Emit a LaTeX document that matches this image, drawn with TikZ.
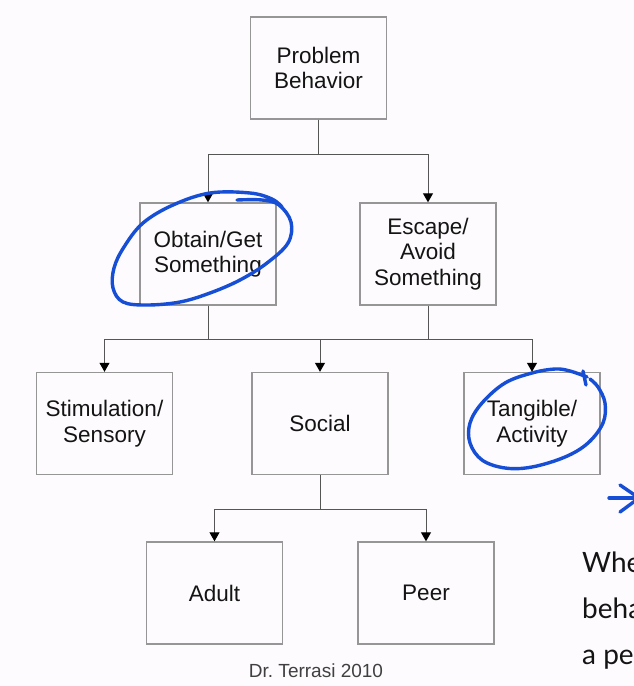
\documentclass[tikz,border=0pt]{standalone}
\usepackage{fontspec}
\setmainfont{Liberation Sans}
\newfontfamily\notefont{Lato}
\usetikzlibrary{arrows.meta}

\definecolor{boxgray}{RGB}{150,150,150}
\definecolor{linegray}{RGB}{85,85,85}
\definecolor{inkblue}{RGB}{22,78,214}
\definecolor{paper}{RGB}{253,251,253}

\tikzset{
  box/.style={draw=boxgray, line width=1.4pt, minimum width=136pt, minimum height=102pt,
    inner sep=0pt, align=center, text=black!92, font=\fontsize{22.5}{25.5}\selectfont},
  trunk/.style={draw=linegray, line width=1pt},
  link/.style={trunk, -{Triangle[width=10pt,length=9pt,color=black]}},
  ink/.style={inkblue, line width=3.4pt, line cap=round, line join=round},
  note/.style={font=\notefont\fontsize{28}{46}\selectfont, text=black!92, inner sep=0pt},
}

\begin{document}
\begin{tikzpicture}[x=1pt,y=-1pt]

\useasboundingbox (0,0) rectangle (634,686);
\clip (0,0) rectangle (634,686);
\fill[paper] (0,0) rectangle (634,686);

% boxes
\node[box] (prob)   at (318.5,68)  {Problem\\Behavior};
\node[box] (obtain) at (208,254)   {Obtain/Get\\Something};
\node[box] (escape) at (428,254)   {Escape/\\Avoid\\Something};
\node[box] (stim)   at (104.5,423.5) {Stimulation/\\Sensory};
\node[box] (social) at (320,423.5) {Social};
\node[box] (tang)   at (532,423.5) {Tangible/\\Activity};
\node[box] (adult)  at (214.5,593) {Adult};
\node[box] (peer)   at (426,593)   {Peer};

% connectors
\draw[link] (prob.south) -- ++(0,35) -| (obtain.north);
\draw[link] (prob.south) -- ++(0,35) -| (escape.north);

\draw[link] (obtain.south) -- ++(0,34) -| (stim.north);
\draw[link] (obtain.south) -- ++(0,34) -| (social.north);
\draw[link] (obtain.south) -- ++(0,34) -| (tang.north);
\draw[trunk] (escape.south) -- ++(0,34);

\draw[link] (social.south) -- ++(0,34) -| (adult.north);
\draw[link] (social.south) -- ++(0,34) -| (peer.north);

\node[anchor=base, font=\fontsize{19}{22}\selectfont, text=black!75] (credit) at (316,677) {Dr.\ Terrasi 2010};

% hand-drawn marks
\draw[ink] plot[smooth, tension=0.6] coordinates {(237,200) (262,200) (279,205) (291,222) (288,243)
  (267,263) (240,280) (210,293) (180,302) (147,305) (123,302) (113,288) (114,268) (124,247)
  (143,223) (173,205) (210,193) (250,193) (272,199) (282,207)};
\draw[ink] plot[smooth, tension=0.6] coordinates {(587,377) (570,371) (555,369) (532,373) (505,383)
  (482,403) (470,423) (470,443) (482,460) (505,468) (532,467) (565,457) (588,443) (603,423)
  (605,403) (598,387) (590,379)};
\draw[ink] (583,371) -- (586,385);
\coordinate (tip) at (639,498);
\draw[ink] (609,498) -- (tip);
\draw[ink] (620,485) -- (tip) -- (620,512);

% slide text, cut off at the edge
\foreach \ln [count=\i] in {Whe,beha,a pe,Li}
  \node[note, anchor=base west] (note\i) at (582,{572+46*(\i-1)}) {\ln};

\end{tikzpicture}
\end{document}
